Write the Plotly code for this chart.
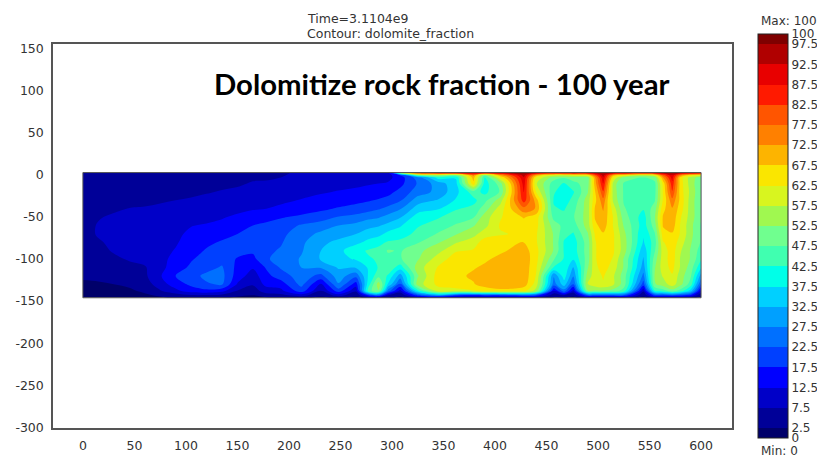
import plotly.graph_objects as go

y_values = [3, 0, -3, -10, -20, -30, -40, -50, -60, -70, -80, -90, -100, -110, -120, -130, -138, -143, -146]

# rows for x = 0 ... 165
x_left = [0, 15, 30, 45, 60, 75, 90, 105, 120, 135, 150, 165]
z_left_rows = [
    [4,4,4,5,5,5,5,5,6,6,6,6],
    [4,4,4,5,5,5,5,5,6,6,6,6.5],
    [4,4,4.5,5,5,5,5,5,6,6,6.5,7],
    [5,5,5,5,5,5,5,5.5,6,6.5,7,7.8],
    [4,4,5,5,5,5,6,6.5,7.2,7.8,8.2,8.7],
    [4,4.5,5,5.5,6,7,7.5,8,8.5,9,9.8,10.5],
    [4,5,6.5,7.7,8,8.3,8.5,9,9.5,10.2,11,12],
    [4,7,8.5,8.5,8.5,9,9.5,10,11,12,13.5,15],
    [5,8,9,8.5,9,9.5,10.5,12.3,13,14,15.5,17.5],
    [5.5,8,8.7,8.5,9,10,11.5,13.5,15,16,17.5,19],
    [5,7,8.5,8.5,9.5,10.5,12,14.5,16.5,18,19,20],
    [4,6,8,8.5,9.5,11,12.8,15.5,18,19,19.5,18.5],
    [4,5,6.5,8,9,11,14,17,19.5,21,17,16],
    [3,4,5,6,7,11,15,18.5,21,23,16,13],
    [3,3.5,4,5,6.5,12,17.5,21,23.5,24,15,10],
    [2,2,2.5,3,5,10,15,18.5,22,23,12,8],
    [2,2,2,2,3,7,11,15,16,14,7,5],
    [1.5,1.5,1.5,2,2,3,5,7,7,6,3,2.5],
    [1.5,1.5,1.5,1.5,1.5,2,3,3,3,3,2,1.5],
]

# depth profiles, one per x position
x_right = [178, 192, 212, 231, 248, 265, 277, 287, 296, 308, 325, 345, 362, 379, 390, 405, 428,
           440, 457, 467, 476, 490, 497, 505, 515, 525, 544, 555, 563, 572, 580, 590, 600]
col_178 = [6.5,6.8,7,8,9.5,11,12.5,16,18.5,20,21,21.5,22,18,16,14,10,5,2]
col_192 = [7,7.2,7.5,8.5,10,11.5,13.5,17,20,21,22,23,24,23,20,15,11,6,2]
col_212 = [8,8.3,8.7,9.5,11,12.8,15,18.5,23,25.5,26.5,27,28,27.5,25,24,20,10,3]
col_231 = [9,9.3,9.7,10.5,12,14,16.5,20,25,28.5,31,32.5,33,28,21,12,7,3,2]
col_248 = [10,10.2,10.5,11,12.8,15,18,22.8,27.5,30,34,36,36,33,30,27,20,10,3]
col_265 = [10.5,10.7,11,11.5,13.5,16,19.5,24,29,32.5,36,41,38,33,24,15,8,3,2]
col_277 = [11,11.2,11.5,12,14.5,17,20.5,26,31,35,39,43,42,38,38,40,45,18,3]
col_287 = [11.5,11.7,12,12.5,15,18,22,27,32,36,41,44,43,43,46,55,52,25,3]
col_296 = [12,10,11,13,16,19,24,29,34,39,43,48,46,46,42,37,25,8,3]
col_308 = [60,18,15,16,19,22,27,32,37,40,44,47,47,40,30,22,10,3,2]
col_325 = [88,50,25,23,25,30,35,40,42,44,47,51,52,55,52,55,40,20,4]
col_345 = [94,55,40,30,29,33,37,42,45,48,52,56,60,63,65,64,60,30,5]
col_362 = [95,50,38,36,36,38,42,45,48,52,57,62,65,66,66,66,60,20,5]
col_379 = [96,75,70,66,45,41,44,47,52,56,60,63,66,67,68.5,67,62,18,4]
col_390 = [96,50,42,40,41,46,50,55,56,60,65,66,66.5,68.5,70,70,64,20,4]
col_405 = [97,72,62,50,48,55,60,62,63,62,65,66.5,69,70,71,71,66,20,4]
col_428 = [99,95,92,90,88,85,76,68,65,63.5,67.8,70,71,71,71,70,64,22,5]
col_440 = [97,72,62,58,62,70,72,65,64,63,63,64,64,63,62,60,55,20,5]
col_457 = [94,60,50,45,43,42,43,46,50,52,52,52,48,42,28,25,12,4,2]
col_467 = [95,60,48,42,40,40,42,44,46,44,42,42,42,42,40,35,25,8,2]
col_476 = [95,62,50,46,42,44,46,47,45,42,40,40,38,32,28,22,10,3,2]
col_490 = [95,65,50,50,52,55,55,55,55,52,50,50,50,52,55,58,52,22,4]
col_497 = [97,80,72,70,67,66,68,68,66,63,62,62,62,61,60,60,52,22,4]
col_505 = [98,95,92,88,82,76,73,71,70,67,66,65,65,65,63,62,52,22,4]
col_515 = [97,70,62,55,55,56,60,62,62,63,63,63,62,60,58,58,50,22,4]
col_525 = [96,65,50,47,47,47,48,50,52,54,55,55,52,52,50,50,45,22,4]
col_544 = [94,58,47,45,44,44,43,40,40,38,37,34,32,30,26,20,8,3,2]
col_555 = [95,62,50,46,46,47,50,52,50,47,45,47,50,52,53,52,42,20,4]
col_563 = [97,80,72,64,63,63,66,68,68,65,62,60,60,60,58,55,45,20,4]
col_572 = [98,92,90,86,82,76,72,71,70,67,66,65,65,64,62,60,50,22,4]
col_580 = [97,75,65,65,65,66,65,63,62,62,60,58,57,57,55,54,45,20,4]
col_590 = [96,65,55,55,56,55,55,55,54,54,53,52,52,50,48,45,35,16,3]
col_600 = [94,62,50,48,48,48,48,48,47,47,47,45,43,38,30,22,10,3,2]
z_right_cols = [col_178, col_192, col_212, col_231, col_248, col_265, col_277, col_287, col_296,
                col_308, col_325, col_345, col_362, col_379, col_390, col_405, col_428, col_440,
                col_457, col_467, col_476, col_490, col_497, col_505, col_515, col_525, col_544,
                col_555, col_563, col_572, col_580, col_590, col_600]

x_values = x_left + x_right
z_values = [left + list(right) for left, right in zip(z_left_rows, zip(*z_right_cols))]

band_colors = [
    "#00006a", "#000098", "#0000c8", "#0000ff", "#0040ff", "#0070ff", "#00a0ff",
    "#00d0ff", "#00ffe8", "#40ffb0", "#70ff8f", "#a0f850", "#d8f51f", "#fae600",
    "#fdb400", "#ff8000", "#ff5500", "#ff1a00", "#e80000", "#b00000", "#7f0000",
]
bar_ticks = [0] + [2.5 + 5 * i for i in range(20)] + [100]
bar_labels = ["0"] + [str(2.5 + 5 * i) for i in range(20)] + ["100"]
x_ticks = list(range(0, 601, 50))
y_ticks = list(range(-300, 151, 50))
y_labels = [str(v) for v in y_ticks]

FONT = "DejaVu Sans"
INK = "#333333"

fig = go.Figure(go.Contour(
    x=x_values, y=y_values, z=z_values,
    zauto=False, zmin=0, zmax=100,
    autocontour=False,
    contours=dict(start=2.5, end=97.5, size=5, coloring="fill", showlines=False),
    line=dict(width=0, smoothing=1.0),
    colorscale=[[i / 20, c] for i, c in enumerate(band_colors)],
    hoverinfo="skip",
    colorbar=dict(
        thicknessmode="pixels", thickness=30,
        lenmode="pixels", len=404,
        x=1.0385, xanchor="left", xpad=0,
        y=0.5, yanchor="middle", ypad=0,
        tickmode="array", tickvals=bar_ticks, ticktext=bar_labels,
        ticks="", ticklabelposition="outside",
        tickfont=dict(family=FONT, size=12, color=INK),
        outlinecolor="#222222", outlinewidth=1,
        borderwidth=0,
    ),
))

axis_style = dict(
    showgrid=False, zeroline=False, showline=True, mirror=True,
    linecolor="#555555", linewidth=1.5, ticks="outside",
    tickcolor="rgba(0,0,0,0)", tickfont=dict(family=FONT, size=12.5, color=INK),
)
fig.update_xaxes(range=[-29, 630], tickmode="array", tickvals=x_ticks, ticklen=5, **axis_style)
fig.update_yaxes(range=[-301, 156], tickmode="array", tickvals=y_ticks, ticktext=y_labels, ticklen=5, **axis_style)

fig.add_shape(type="rect", x0=x_values[0], x1=x_values[-1], y0=y_values[-1], y1=y_values[0],
              line=dict(color="#555555", width=1))

annotations = [
    dict(text="Time=3.1104e9", x=306, y=18, size=12.5, family=FONT, color=INK),
    dict(text="Contour: dolomite_fraction", x=306, y=33, size=12.5, family=FONT, color=INK),
    dict(text="<b>Dolomitize rock fraction - 100 year</b>", x=213, y=84, size=29.3, family="Lato", color="#000000"),
    dict(text="Max: 100", x=760, y=21, size=12, family=FONT, color=INK),
    dict(text="Min: 0", x=760, y=451, size=12, family=FONT, color=INK),
]
for a in annotations:
    fig.add_annotation(
        text=a["text"], xref="paper", yref="paper", showarrow=False,
        x=(a["x"] - 53) / 679, y=1 - (a["y"] - 44) / 384,
        xanchor="left", yanchor="middle", xshift=-1,
        font=dict(family=a["family"], size=a["size"], color=a["color"]),
    )

fig.update_layout(
    width=817, height=469, autosize=False, showlegend=False,
    paper_bgcolor="white", plot_bgcolor="white",
    margin=dict(l=53, r=85, t=44, b=41, autoexpand=False),
)

fig.write_html("out.html", config={"displayModeBar": False},
               post_script="document.body.style.margin='0';")
